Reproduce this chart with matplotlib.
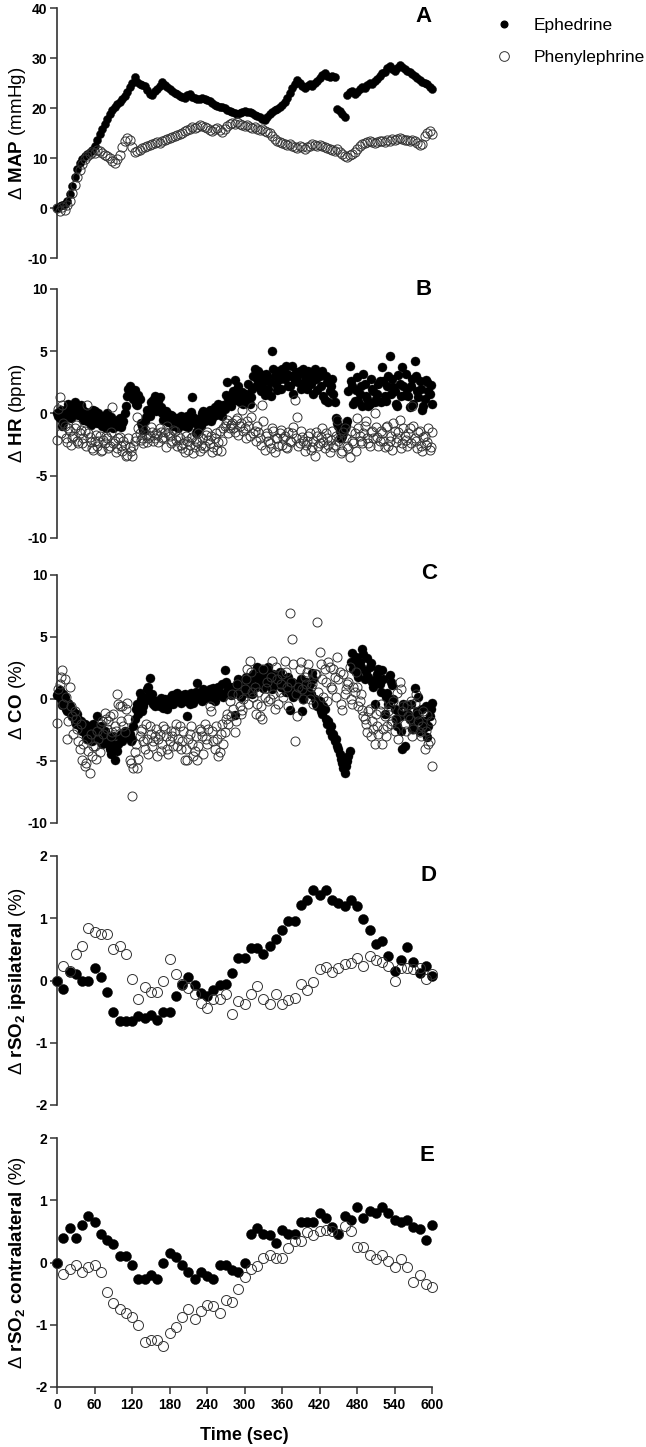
import numpy as np
import matplotlib
matplotlib.use("Agg")
import matplotlib.pyplot as plt
from matplotlib.lines import Line2D

plt.rcParams['font.family'] = ['Liberation Sans', 'DejaVu Sans']
plt.rcParams['mathtext.fontset'] = 'custom'
plt.rcParams['mathtext.rm'] = 'Liberation Sans'
plt.rcParams['mathtext.bf'] = 'Liberation Sans:bold'
plt.rcParams['mathtext.it'] = 'Liberation Sans:italic'
plt.rcParams['mathtext.sf'] = 'Liberation Sans'

# ---------------- data ----------------
TIME_DENSE = np.arange(0, 601, 4)      # sec, panels A-C
TIME_DENSE_ODD = np.arange(2, 600, 4)  # sec, extra samples for panels B-C
TIME_NIRS = np.arange(0, 601, 10)      # sec, panels D-E

MAP_EPH = [
    0.0, 0.5, 0.6, 0.8, 1.5, 2.8, 4.5, 6.3, 7.8, 9.0,
    9.8, 10.4, 10.8, 11.2, 11.6, 12.5, 13.6, 14.8, 15.9, 16.8,
    17.8, 18.8, 19.6, 20.3, 20.8, 21.2, 21.8, 22.4, 23.2, 24.2,
    25.0, 26.3, 25.2, 24.8, 24.6, 24.5, 23.6, 22.8, 22.6, 23.4,
    23.9, 24.4, 25.2, 24.6, 24.2, 23.9, 23.4, 23.0, 22.8, 22.4,
    22.2, 22.0, 22.6, 22.9, 22.2, 22.0, 21.9, 21.8, 22.0, 21.8,
    21.6, 21.4, 21.0, 20.7, 20.4, 20.3, 20.2, 20.0, 19.7, 19.4,
    19.2, 19.0, 18.8, 19.0, 19.3, 19.4, 19.2, 19.3, 19.0, 18.6,
    18.4, 18.2, 17.8, 17.6, 18.2, 18.8, 19.2, 19.6, 19.8, 20.2,
    20.6, 21.3, 22.0, 23.0, 24.0, 24.8, 25.6, 25.0, 24.4, 24.0,
    24.4, 24.8, 24.5, 25.0, 25.4, 26.0, 26.6, 27.0, 26.4, 26.2,
    26.5, 26.2, 19.9, 19.4, 18.8, 18.3, 22.6, 23.2, 23.4, 22.8,
    23.3, 23.8, 24.2, 24.0, 24.6, 25.0, 24.8, 25.4, 25.8, 26.4,
    27.0, 27.2, 28.0, 28.4, 27.8, 27.4, 28.0, 28.6, 28.2, 27.8,
    27.5, 27.2, 26.8, 26.4, 26.0, 25.6, 25.3, 25.0, 24.8, 24.2,
    23.8]
MAP_PHE = [
    0.0, -0.5, 0.2, -0.4, 0.6, 1.5, 3.0, 4.6, 6.2, 7.6,
    8.8, 9.8, 10.4, 10.8, 11.2, 11.0, 11.6, 11.4, 11.0, 10.6,
    10.4, 10.0, 9.4, 9.0, 9.8, 10.6, 12.2, 13.4, 14.0, 13.6,
    12.2, 11.2, 11.4, 11.6, 12.0, 12.2, 12.4, 12.6, 12.8, 13.0,
    13.2, 13.0, 13.4, 13.6, 13.8, 14.0, 14.2, 14.4, 14.6, 14.8,
    15.0, 15.4, 15.6, 15.9, 16.2, 16.0, 16.3, 16.6, 16.4, 16.2,
    16.0, 15.6, 15.4, 15.8, 16.0, 15.6, 15.2, 15.8, 16.4, 16.8,
    17.0, 16.8, 17.2, 16.9, 16.6, 16.4, 16.6, 16.2, 16.0, 16.2,
    15.9, 15.6, 15.8, 15.4, 15.2, 15.0, 14.4, 13.8, 13.4, 13.2,
    13.0, 12.8, 12.6, 12.8, 12.4, 12.2, 12.0, 12.4, 12.2, 11.8,
    12.2, 12.4, 12.8, 12.6, 12.4, 12.6, 12.4, 12.2, 12.0, 11.8,
    11.6, 11.4, 11.8, 11.2, 10.8, 10.4, 10.2, 10.6, 10.8, 11.2,
    11.8, 12.4, 12.8, 13.0, 13.2, 13.4, 13.2, 13.0, 13.3, 13.5,
    13.4, 13.2, 13.6, 13.4, 13.8, 13.6, 13.9, 14.0, 13.8, 13.6,
    13.7, 13.4, 13.6, 13.4, 13.0, 12.6, 12.8, 14.4, 15.0, 15.4,
    14.8]

HR_EPH = [
    0.0, -0.4, -1.0, -0.3, 0.4, -0.2, 0.6, 0.9, 0.2, 0.6,
    0.4, -0.2, -0.6, 0.0, -0.4, 0.2, -0.8, -0.3, -1.0, -0.5,
    0.0, -0.8, -1.0, -0.6, -1.0, -0.4, -0.8, 0.0, 1.4, 2.2,
    1.6, 1.9, 0.7, 1.2, -1.0, -0.6, 0.3, -0.2, 0.6, 1.4,
    0.8, 1.3, 0.0, -0.3, 0.0, -0.5, -0.2, -0.8, -0.4, -0.9,
    -0.5, -1.0, -0.2, -0.6, 1.3, -0.8, -1.4, -0.4, 0.0, -0.6,
    -0.3, 0.3, -0.4, 0.5, 0.0, 0.6, -0.2, 0.4, 2.5, 1.0,
    1.4, 2.7, 1.5, 0.9, 1.7, 1.2, 1.0, 0.8, 2.0, 3.6,
    2.8, 3.2, 2.4, 1.5, 3.0, 2.5, 5.0, 3.0, 1.9, 2.8,
    3.6, 2.8, 3.2, 2.2, 3.8, 2.6, 3.0, 3.4, 2.4, 3.0,
    2.0, 3.2, 2.6, 3.6, 1.9, 3.0, 3.4, 1.1, 2.5, 1.8,
    2.8, 0.9, -0.8, -1.4, -1.8, -1.2, -0.6, 3.8, 2.2, 1.0,
    2.9, 1.6, 0.6, 2.4, 1.2, 0.8, 2.0, 0.9, 1.6, 2.6,
    3.7, 1.4, 2.2, 4.6, 2.8, 1.8, 0.6, 2.4, 3.7, 1.5,
    2.0, 0.5, 2.8, 4.2, 1.8, 2.6, 0.3, 1.2, 2.5, 1.6,
    0.8]
HR_EPH_ODD = [
    -0.2, 0.3, -0.7, 0.1, 0.8, -0.4, 0.2, 0.5, -0.1, 0.7,
    -0.5, 0.1, -0.3, -0.9, 0.3, -0.6, 0.0, -0.7, -0.2, -1.2,
    -0.6, -0.3, -1.2, -0.8, -0.5, -1.1, -0.6, 0.6, 2.0, 1.8,
    1.2, 0.8, 1.5, -0.8, -1.3, -0.3, 0.0, 0.9, 1.1, 0.2,
    1.0, 0.5, -0.5, 0.2, -0.7, -0.1, -1.0, -0.5, -1.2, -0.2,
    -0.8, -0.4, -1.1, 0.1, -0.3, -1.6, -0.7, -1.0, 0.2, -0.3,
    0.1, -0.6, 0.2, -0.1, 0.8, 0.2, 0.7, 1.5, 1.2, 0.6,
    1.8, 1.1, 2.2, 1.4, 0.8, 1.6, 2.4, 1.3, 3.0, 2.2,
    3.4, 1.8, 2.6, 3.2, 2.0, 1.4, 3.6, 2.4, 3.4, 2.0,
    2.9, 3.8, 2.2, 3.0, 1.6, 3.3, 2.5, 2.0, 3.6, 2.7,
    3.4, 2.4, 1.6, 2.8, 3.2, 2.2, 1.4, 3.0, 0.9, 2.2,
    1.6, -0.4, -1.0, -2.0, -1.6, -0.9, 1.8, 2.6, 0.8, 1.9,
    1.0, 2.2, 3.2, 1.4, 0.6, 2.8, 1.8, 1.2, 2.4, 0.9,
    2.6, 1.0, 3.0, 1.6, 2.1, 0.8, 3.1, 1.4, 2.2, 3.2,
    1.4, 2.2, 0.8, 3.0, 1.3, 2.0, 0.6, 2.7, 1.8, 2.3]
HR_PHE = [
    -2.1, 1.3, 0.7, -1.0, -2.3, -1.4, -2.0, -1.2, -2.2, -1.6,
    -2.4, -1.4, 0.7, -1.9, -2.8, -2.2, -2.6, -1.8, -2.9, -2.4,
    -2.0, -2.6, 0.5, -2.2, -2.8, -1.9, -3.0, -2.5, -3.3, -2.7,
    -3.4, -2.2, -0.3, -1.6, -2.0, -1.3, -2.3, -1.8, -1.5, -2.0,
    -1.7, -1.2, -2.0, -1.5, -1.0, -1.8, -2.2, -1.4, -2.6, -2.0,
    -2.8, -3.1, -2.2, -2.5, -1.9, -2.7, -2.3, -3.0, -2.0, -2.6,
    -1.5, -2.4, -3.1, -2.0, -2.9, -1.4, -2.2, -1.0, -0.5, -1.2,
    -0.8, -1.5, -0.4, -1.0, 0.3, -1.2, -0.6, -1.8, 0.5, -1.4,
    -1.0, -2.0, 0.7, -2.9, -1.6, -2.4, -1.2, -3.1, -2.0, -1.6,
    -2.5, -1.8, -2.8, -2.2, -1.6, 1.1, -0.3, -2.4, -1.9, -3.0,
    -2.2, -1.6, -2.7, -3.4, -1.8, -2.4, -1.2, -2.8, -2.0, -3.1,
    -1.4, -2.5, -0.5, -2.0, -3.0, -1.2, -2.6, -3.5, -2.2, -1.6,
    -0.4, -1.8, -2.4, -1.0, -2.0, -2.6, -1.4, 0.0, -1.9, -2.2,
    -1.6, -2.7, -1.0, -2.2, -2.9, -1.4, -2.0, -0.5, -2.4, -1.8,
    -2.6, -1.2, 0.6, -2.0, -2.8, -1.4, -3.0, -1.8, -2.3, -2.9,
    -1.5]
HR_PHE_ODD = [
    0.4, -1.6, -0.8, -2.0, -1.2, -2.5, -1.8, -0.9, -2.4, -1.3,
    -2.0, -2.6, -1.6, -2.3, -2.9, -1.7, -2.2, -3.0, -2.1, -1.8,
    -2.8, -1.5, -2.4, -3.1, -2.0, -2.6, -2.2, -3.4, -2.0, -3.0,
    -2.6, -1.9, -1.2, -2.1, -2.4, -1.7, -2.0, -1.1, -2.2, -1.6,
    -2.3, -1.5, -1.9, -2.7, -1.6, -2.4, -1.3, -2.1, -1.8, -2.5,
    -2.4, -1.8, -2.9, -2.0, -3.2, -2.2, -1.6, -2.5, -2.8, -1.7,
    -2.1, -1.8, -2.7, -1.6, -2.3, -3.0, -1.2, -0.8, -1.6, -0.9,
    -1.2, -0.5, -1.7, -0.8, -1.4, -2.0, -1.0, -0.3, -1.6, -2.2,
    -1.5, -2.5, -0.6, -1.8, -2.2, -2.8, -1.4, -2.0, -2.6, -1.3,
    -2.0, -2.7, -1.5, -2.3, -1.1, -2.0, -2.6, -1.4, -2.2, -2.5,
    -1.8, -2.9, -2.2, -1.5, -2.6, -1.9, -2.3, -1.6, -2.5, -2.1,
    -2.7, -1.8, -2.2, -3.2, -1.5, -2.0, -2.8, -1.4, -2.4, -3.0,
    -1.2, -2.2, -1.6, -0.6, -2.4, -1.5, -2.0, -1.1, -2.6, -1.4,
    -2.2, -1.1, -2.6, -1.8, -0.8, -2.3, -1.5, -2.8, -1.2, -2.1,
    -1.6, -2.4, -1.0, -2.2, -1.5, -2.6, -1.9, -2.5, -1.2, -2.7]

CO_EPH = [
    0.3, 0.7, -0.5, 0.2, -1.0, -0.6, -1.4, -1.8, -1.2, -2.2,
    -2.6, -2.0, -3.2, -2.4, -3.4, -2.8, -1.4, -3.0, -3.6, -2.6,
    -3.2, -4.0, -3.6, -4.9, -4.2, -3.0, -3.4, -2.6, -3.0, -2.8,
    -3.2, -1.6, -0.4, 0.5, -1.0, -0.2, 0.8, 1.7, 0.4, -0.6,
    -0.2, -0.6, -0.4, 0.0, -0.8, -0.4, 0.3, -0.2, 0.5, 0.2,
    -0.2, 0.4, -1.4, -0.4, 0.2, 0.0, 1.3, 0.4, -0.2, 0.6,
    0.2, 0.8, 0.4, -0.2, 0.7, 0.3, 1.2, 2.3, 0.6, 1.0,
    0.4, -1.3, 1.2, 0.6, 1.4, 0.8, 1.6, 1.0, 0.4, 1.8,
    2.6, 1.4, 2.0, 1.2, 2.2, 1.6, 0.8, 1.8, 1.2, 2.2,
    1.0, 1.6, 0.6, -0.9, 1.4, 0.8, 1.2, 0.4, -1.0, 0.9,
    0.6, 1.2, 2.1, 0.0, -0.6, -0.2, -1.2, -0.8, -2.0, -2.6,
    -3.0, -3.4, -3.8, -4.4, -5.2, -6.0, -5.0, -4.2, 3.7, 2.8,
    2.2, 3.0, 4.0, 1.6, 3.3, 2.6, 1.4, -0.4, 2.0, 1.2,
    2.3, -1.2, 0.5, 1.9, 1.1, -0.8, -2.2, -1.4, -4.0, -3.8,
    -0.6, -1.6, -2.4, 0.9, -1.0, -2.6, -0.8, -1.8, -3.1, -1.4,
    -0.3]
CO_EPH_ODD = [
    0.5, 0.0, 0.4, -0.8, -0.3, -1.2, -1.0, -2.0, -1.6, -1.8,
    -2.4, -3.0, -2.2, -2.8, -2.0, -3.2, -2.6, -2.2, -3.2, -3.0,
    -3.6, -4.4, -3.0, -4.0, -3.6, -2.8, -2.9, -3.1, -2.7, -3.4,
    -2.2, -0.8, -1.2, 0.0, -0.6, 0.2, 1.0, 0.0, -0.4, -0.2,
    -0.5, 0.1, -0.7, -0.2, -0.3, 0.2, -0.4, 0.4, 0.0, -0.3,
    0.3, -0.2, 0.0, 0.5, -0.3, 0.6, 0.2, 0.0, 0.8, 0.1,
    0.6, 0.0, 0.9, 0.4, 1.0, 0.5, 0.2, 1.4, 0.8, 0.3,
    1.0, 0.6, 1.6, 0.2, 1.1, 1.8, 0.5, 1.2, 2.0, 1.0,
    1.8, 2.4, 0.9, 1.6, 2.6, 1.2, 2.0, 1.4, 1.7, 1.0,
    1.4, 0.6, 1.8, 1.0, 0.2, 1.2, 0.6, 1.6, 0.0, 1.4,
    1.0, 0.4, 1.6, -0.4, -0.2, -1.0, -0.6, -1.6, -1.8, -2.2,
    -2.8, -3.2, -4.0, -4.8, -5.6, -5.4, -4.6, 3.0, 2.4, 3.4,
    1.8, 2.6, 3.6, 2.2, 1.8, 2.9, 1.0, 1.6, 2.4, 0.6,
    1.6, 0.2, -0.4, 1.4, 0.0, -1.6, -1.0, -2.6, -0.4, -1.2,
    -1.2, -0.4, -2.0, -1.4, 0.2, -1.8, -2.4, -0.6, -2.2, -0.8]
CO_PHE = [
    -1.9, 1.2, 2.3, 1.6, -3.2, 1.0, -1.4, -1.0, -2.4, -4.0,
    -4.9, -5.4, -3.2, -6.0, -4.6, -3.8, -2.6, -4.3, -1.8, -1.1,
    -2.4, -1.4, -2.7, -2.2, 0.4, -0.6, -0.6, -2.7, -0.3, -4.9,
    -7.8, -4.3, -5.6, -3.0, -2.4, -4.0, -3.2, -2.2, -3.8, -3.0,
    -4.6, -2.8, -3.6, -2.4, -4.0, -3.4, -3.0, -2.6, -3.8, -2.2,
    -3.4, -4.9, -4.9, -2.8, -3.6, -4.2, -4.9, -2.4, -3.0, -2.0,
    -3.6, -0.6, -2.6, -4.0, -3.2, -4.3, -2.0, -2.7, -1.2, -0.2,
    0.4, -2.7, 1.2, -0.6, -0.9, 0.8, 2.4, 3.1, 0.6, 1.0,
    -0.4, -1.4, -1.6, 0.2, 1.4, 0.0, 3.1, -0.8, 1.6, 0.6,
    2.0, 3.1, 1.0, 6.9, 4.8, -3.4, -1.4, 2.4, 0.8, 1.8,
    2.2, 0.0, 1.2, 2.0, 6.2, 3.8, 1.6, 2.4, -0.2, 2.6,
    0.8, 1.8, 3.4, 2.2, -0.9, 0.4, 1.2, 2.6, -0.4, 0.6,
    1.0, -0.2, -0.9, -1.6, -2.7, -0.8, -1.8, -3.6, -2.2, -1.0,
    -3.6, -1.4, -2.2, -0.6, -1.8, -2.6, 0.5, 1.4, -1.0, -2.0,
    -0.5, -1.6, -3.0, -0.3, -1.2, -2.7, -2.2, -4.0, -1.3, -3.4,
    -5.4]
CO_PHE_ODD = [
    0.8, 1.8, -0.4, 0.2, -1.8, -0.6, -2.8, -1.6, -3.4, -2.0,
    -3.6, -5.2, -4.2, -2.8, -3.8, -4.8, -3.2, -2.0, -2.8, -1.6,
    -1.8, -3.0, -1.2, -2.6, -0.4, -1.8, -2.2, -0.8, -1.6, -5.2,
    -5.6, -3.6, -4.8, -2.6, -3.4, -2.0, -4.4, -2.8, -3.4, -2.4,
    -3.2, -4.2, -2.2, -3.0, -4.4, -2.6, -3.8, -2.0, -3.2, -4.0,
    -2.6, -4.0, -3.2, -2.2, -4.6, -3.0, -3.8, -2.6, -4.4, -3.2,
    -2.4, -1.0, -3.4, -2.2, -4.6, -2.8, -3.6, -1.6, -2.0, -1.4,
    -0.8, -1.8, 0.4, -1.2, 0.0, 1.6, -0.4, 2.2, 0.2, -1.2,
    0.6, -0.6, 2.4, 0.9, -0.2, 1.8, 0.4, 2.6, -0.4, 1.2,
    0.2, 2.2, -0.6, 1.4, 2.8, 0.4, 1.0, 3.0, 0.0, 1.2,
    2.8, 1.0, -0.4, 2.0, 0.6, 2.8, 0.2, 1.4, 3.0, 1.0,
    2.4, 0.2, 1.6, -0.4, 2.0, 0.8, 1.4, 0.0, 1.0, 2.2,
    -0.6, 0.4, -1.4, -2.0, -1.0, -3.0, -2.4, -1.2, -2.8, -0.4,
    -2.4, -3.0, -1.0, -2.0, -0.2, -1.6, -3.2, 0.8, -0.6, -2.6,
    -1.4, -0.2, -2.4, 0.4, -1.8, -3.0, -1.0, -2.6, -3.6, -1.8]

IPSI_EPH = [
    0.0, -0.14, 0.13, 0.10, 0.0, 0.0, 0.20, 0.06, -0.18, -0.51,
    -0.65, -0.65, -0.65, -0.57, -0.60, -0.55, -0.63, -0.51, -0.51, -0.25,
    -0.08, 0.06, -0.08, -0.20, -0.25, -0.15, -0.08, -0.05, 0.12, 0.36,
    0.36, 0.52, 0.52, 0.42, 0.55, 0.66, 0.81, 0.95, 0.95, 1.22,
    1.30, 1.46, 1.38, 1.46, 1.30, 1.24, 1.19, 1.30, 1.20, 0.99,
    0.81, 0.59, 0.63, 0.40, 0.16, 0.33, 0.54, 0.29, 0.12, 0.23,
    0.07]
IPSI_PHE = [
    0.0, 0.24, 0.16, 0.42, 0.56, 0.85, 0.78, 0.75, 0.75, 0.50,
    0.56, 0.42, 0.03, -0.30, -0.10, -0.19, -0.19, -0.01, 0.35, 0.10,
    -0.05, -0.12, -0.22, -0.36, -0.44, -0.29, -0.30, -0.22, -0.54, -0.33,
    -0.38, -0.22, -0.09, -0.30, -0.38, -0.21, -0.37, -0.31, -0.28, -0.05,
    -0.16, -0.02, 0.18, 0.21, 0.13, 0.20, 0.27, 0.28, 0.36, 0.24,
    0.39, 0.33, 0.30, 0.24, 0.0, 0.20, 0.20, 0.18, 0.20, 0.03,
    0.10]

CONTRA_EPH = [
    0.0, 0.39, 0.56, 0.39, 0.61, 0.75, 0.65, 0.45, 0.36, 0.29,
    0.10, 0.10, -0.04, -0.26, -0.26, -0.20, -0.26, 0.0, 0.16, 0.09,
    -0.04, -0.15, -0.26, -0.15, -0.21, -0.26, -0.04, -0.04, -0.12, -0.15,
    0.0, 0.45, 0.56, 0.46, 0.44, 0.31, 0.53, 0.45, 0.45, 0.65,
    0.65, 0.65, 0.79, 0.71, 0.57, 0.45, 0.74, 0.68, 0.89, 0.71,
    0.83, 0.80, 0.89, 0.80, 0.69, 0.65, 0.69, 0.57, 0.54, 0.36,
    0.61]
CONTRA_PHE = [
    0.0, -0.19, -0.10, -0.04, -0.15, -0.07, -0.04, -0.16, -0.47, -0.65,
    -0.74, -0.81, -0.87, -1.0, -1.27, -1.24, -1.24, -1.34, -1.14, -1.04,
    -0.87, -0.74, -0.90, -0.78, -0.69, -0.70, -0.81, -0.61, -0.63, -0.43,
    -0.23, -0.11, -0.06, 0.08, 0.12, 0.08, 0.08, 0.23, 0.34, 0.34,
    0.49, 0.44, 0.50, 0.52, 0.50, 0.45, 0.59, 0.51, 0.25, 0.25,
    0.12, 0.06, 0.12, 0.03, -0.07, 0.06, -0.07, -0.31, -0.20, -0.34,
    -0.40]

SERIES_NAMES = ['Ephedrine', 'Phenylephrine']
PANEL_LETTERS = ['A', 'B', 'C', 'D', 'E']
Y_LABELS = [
    'Δ $\\mathbf{MAP}$ (mmHg)',
    'Δ $\\mathbf{HR}$ (bpm)',
    'Δ $\\mathbf{CO}$ (%)',
    'Δ $\\mathbf{rSO_2\\ ipsilateral}$ (%)',
    'Δ $\\mathbf{rSO_2\\ contralateral}$ (%)',
]
Y_TICKS = [
    [-10, 0, 10, 20, 30, 40],
    [-10, -5, 0, 5, 10],
    [-10, -5, 0, 5, 10],
    [-2, -1, 0, 1, 2],
    [-2, -1, 0, 1, 2],
]
X_TICKS = [0, 60, 120, 180, 240, 300, 360, 420, 480, 540, 600]
X_LABEL = 'Time (sec)'

# ---------------- layout ----------------
W, H = 646, 1447
fig = plt.figure(figsize=(W / 100, H / 100), dpi=100)

AX_LEFT, AX_RIGHT = 57, 432
PANEL_PX = [(8, 258), (289, 538), (575, 823), (856, 1105), (1138, 1387)]
LETTER_PX = [(423.5, 22), (424, 295), (429, 579), (429, 881), (427, 1161)]
MS_FILLED = [5.8, 6.5, 6.5, 7.2, 7.2]
MS_OPEN = [6.6, 6.5, 6.5, 7.2, 7.2]

data = [
    (TIME_DENSE, MAP_EPH, MAP_PHE),
    (np.concatenate([TIME_DENSE, TIME_DENSE_ODD]), HR_EPH + HR_EPH_ODD, HR_PHE + HR_PHE_ODD),
    (np.concatenate([TIME_DENSE, TIME_DENSE_ODD]), CO_EPH + CO_EPH_ODD, CO_PHE + CO_PHE_ODD),
    (TIME_NIRS, IPSI_EPH, IPSI_PHE),
    (TIME_NIRS, CONTRA_EPH, CONTRA_PHE),
]

SPINE_COLOR = '#333333'
OPEN_EDGE = '#333333'

for i, (t, eph, phe) in enumerate(data):
    top, bot = PANEL_PX[i]
    ax = fig.add_axes([AX_LEFT / W, 1 - bot / H, (AX_RIGHT - AX_LEFT) / W, (bot - top) / H])
    ax.plot(t, eph, 'o', ls='none', ms=MS_FILLED[i], mfc='black', mec='black', mew=0.3,
            clip_on=False, zorder=3)
    ax.plot(t, phe, 'o', ls='none', ms=MS_OPEN[i], mfc='none', mec=OPEN_EDGE, mew=0.7,
            clip_on=False, zorder=4)
    yt = Y_TICKS[i]
    ax.set_ylim(yt[0], yt[-1])
    ax.set_xlim(0, 600)
    ax.set_yticks(yt, labels=[str(v) for v in yt], fontweight='bold', fontsize=10)
    for s in ['top', 'right']:
        ax.spines[s].set_visible(False)
    ax.spines['left'].set_color(SPINE_COLOR)
    ax.spines['left'].set_linewidth(1.2)
    ax.tick_params(axis='y', length=5, width=1.1, color=SPINE_COLOR, pad=2)
    if i < 4:
        ax.spines['bottom'].set_visible(False)
        ax.set_xticks([])
    else:
        ax.spines['bottom'].set_color(SPINE_COLOR)
        ax.spines['bottom'].set_linewidth(1.2)
        ax.set_xticks(X_TICKS, labels=[str(v) for v in X_TICKS], fontweight='bold', fontsize=10)
        ax.tick_params(axis='x', length=5, width=1.1, color=SPINE_COLOR, pad=3)
    ax.patch.set_visible(False)

    yc = (top + bot) / 2
    fig.text(18 / W, 1 - yc / H, Y_LABELS[i], rotation=90, ha='center', va='center', fontsize=13.5)
    lx, ly = LETTER_PX[i]
    fig.text(lx / W, 1 - ly / H, PANEL_LETTERS[i], fontsize=16, fontweight='bold',
             ha='center', va='baseline')

fig.text(244.5 / W, 1 - 1435 / H, X_LABEL, fontsize=13, fontweight='bold', ha='center', va='center')

handles = [
    Line2D([], [], marker='o', ls='none', ms=4.8, mfc='black', mec='black'),
    Line2D([], [], marker='o', ls='none', ms=7.0, mfc='none', mec=OPEN_EDGE, mew=0.7),
]
fig.legend(handles, SERIES_NAMES, loc='upper left', bbox_to_anchor=(495 / W, 1 - 18 / H),
           frameon=False, fontsize=12.5, handlelength=1.0, handletextpad=1.2,
           labelspacing=0.95, borderpad=0, borderaxespad=0)

fig.savefig('out.png', dpi=100)
